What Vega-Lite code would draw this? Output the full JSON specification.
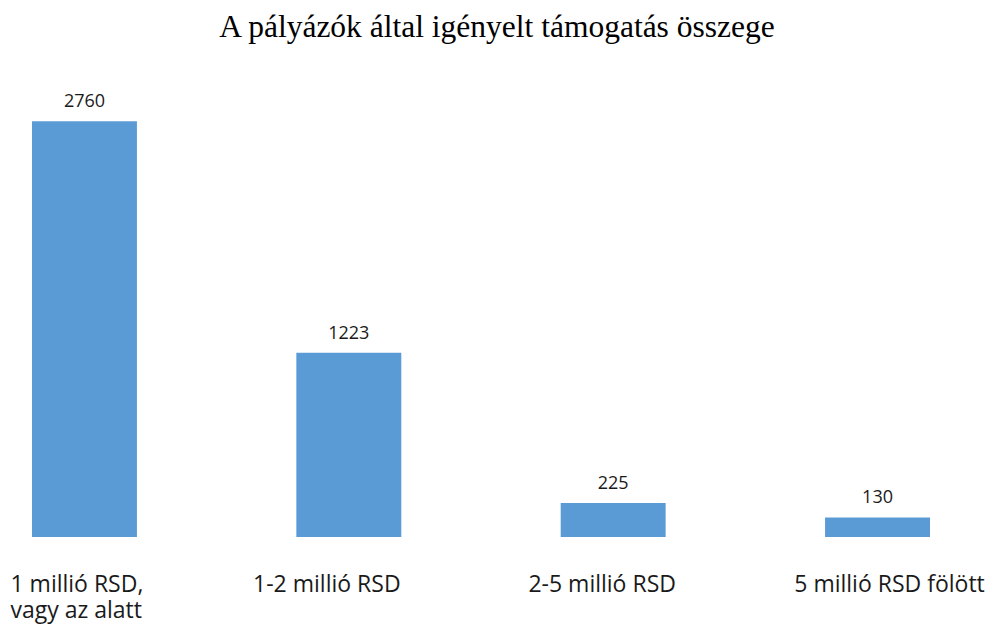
{
  "$schema": "https://vega.github.io/schema/vega-lite/v6.json",
  "autosize": "none",
  "width": 962,
  "height": 452,
  "padding": {"top": 85, "left": 0, "right": 33, "bottom": 88},
  "background": "white",
  "config": {"view": {"stroke": null}},
  "title": {
    "text": "A pályázók által igényelt támogatás összege",
    "font": "Liberation Serif",
    "fontSize": 31.5,
    "fontWeight": "normal",
    "color": "#000000",
    "anchor": "middle",
    "frame": "group",
    "dx": 16,
    "offset": 42
  },
  "data": {
    "values": [
      {"kategoria": "1 millió RSD, vagy az alatt", "ertek": 2760},
      {"kategoria": "1-2 millió RSD", "ertek": 1223},
      {"kategoria": "2-5 millió RSD", "ertek": 225},
      {"kategoria": "5 millió RSD fölött", "ertek": 130}
    ]
  },
  "encoding": {
    "x": {
      "field": "kategoria",
      "type": "nominal",
      "sort": null,
      "scale": {"paddingInner": 0.603, "paddingOuter": 0.121},
      "axis": {
        "title": null,
        "domain": false,
        "ticks": false,
        "labelAngle": 0,
        "labelFont": "Open Sans",
        "labelFontSize": 23,
        "labelColor": "#1a1a1a",
        "labelPadding": 36,
        "labelLineHeight": 26,
        "labelBaseline": "top",
        "labelLimit": 300,
        "labelExpr": "datum.value == '1 millió RSD, vagy az alatt' ? ['1 millió RSD,', 'vagy az alatt'] : datum.label",
        "labelAlign": {"condition": {"test": "datum.value == '1 millió RSD, vagy az alatt'", "value": "left"}, "value": "center"},
        "labelOffset": {
          "condition": [
            {"test": "datum.value == '1 millió RSD, vagy az alatt'", "value": -74},
            {"test": "datum.value == '1-2 millió RSD'", "value": -22},
            {"test": "datum.value == '2-5 millió RSD'", "value": -11}
          ],
          "value": 12
        }
      }
    },
    "y": {
      "field": "ertek",
      "type": "quantitative",
      "scale": {"domain": [0, 3000]},
      "axis": null
    }
  },
  "layer": [
    {"mark": {"type": "bar", "color": "#5B9BD5"}},
    {
      "mark": {
        "type": "text",
        "font": "Open Sans",
        "fontSize": 18,
        "color": "#1a1a1a",
        "baseline": "alphabetic",
        "dy": -14
      },
      "encoding": {"text": {"field": "ertek", "type": "quantitative"}}
    }
  ]
}
